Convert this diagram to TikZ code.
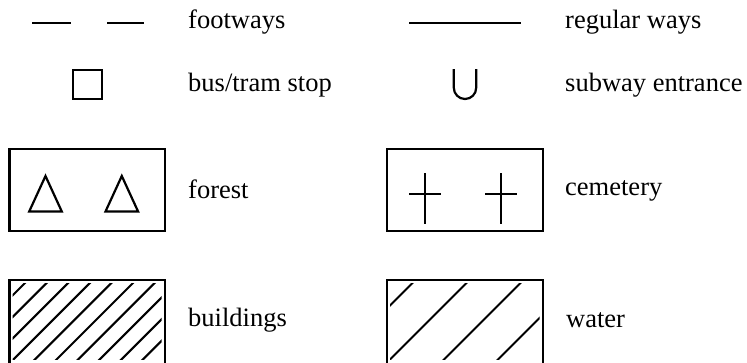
\documentclass[tikz,border=0pt]{standalone}
\usepackage{fontspec}
\setmainfont{Liberation Serif}
\begin{document}
\begin{tikzpicture}[x=1pt,y=-1pt,
  sym/.style={line width=2.2pt, line join=miter},
  hatch/.style={line width=2.1pt},
  lbl/.style={anchor=base west, inner sep=0pt, font=\fontsize{26.5}{30}\selectfont}]
\useasboundingbox (0,0) rectangle (747,362);
\clip (0,0) rectangle (747,362);
% row 1
\draw[sym] (32,22.7) -- (71,22.7);
\draw[sym] (107,22.7) -- (144,22.7);
\node[lbl] (foot) at (188,28.5) {footways};
\draw[sym] (409,22.7) -- (521,22.7);
\node[lbl] (reg) at (565,28.5) {regular ways};
% row 2
\draw[sym] (72.8,70.1) rectangle (101.6,98.9);
\node[lbl] (bus) at (188,91) {bus/tram stop};
\draw[sym] (453.8,69) -- (453.8,87.8) arc[start angle=180,end angle=0,radius=11.2] -- (476.2,69);
\node[lbl] (sub) at (565,91) {subway entrance};
% row 3
\draw[sym] (9.4,148.8) rectangle (164.6,230.6);
\draw[sym] (29.2,211.5) -- (45.5,176) -- (61.8,211.5) -- cycle;
\draw[sym] (105.5,211.5) -- (121.8,176) -- (138.1,211.5) -- cycle;
\node[lbl] (forest) at (188,198.5) {forest};
\draw[sym] (386.8,148.8) rectangle (542.9,230.6);
\draw[sym] (409,194) -- (440.7,194) (425,173.3) -- (425,224.3);
\draw[sym] (485,194) -- (517.3,194) (501,173.3) -- (501,224.3);
\node[lbl] (cem) at (565,195) {cemetery};
% row 4
\draw[sym] (9.4,364) -- (9.4,280.1) -- (164.6,280.1) -- (164.6,364);
\begin{scope}
  \clip (12.5,283.2) rectangle (161.5,359.5);
  \foreach \k in {0,...,11} {
    \pgfmathsetmacro{\c}{308+21.6*\k}
    \draw[hatch] (\c-380,380) -- (\c-250,250);
  }
\end{scope}
\node[lbl] (bld) at (188,326.5) {buildings};
\draw[sym] (386.8,364) -- (386.8,280.1) -- (542.9,280.1) -- (542.9,364);
\begin{scope}
  \clip (390,283.2) rectangle (539.7,359.5);
  \foreach \k in {0,...,4} {
    \pgfmathsetmacro{\c}{695.5+54*\k}
    \draw[hatch] (\c-380,380) -- (\c-250,250);
  }
\end{scope}
\node[lbl] (wat) at (566,327.5) {water};
\end{tikzpicture}
\end{document}
